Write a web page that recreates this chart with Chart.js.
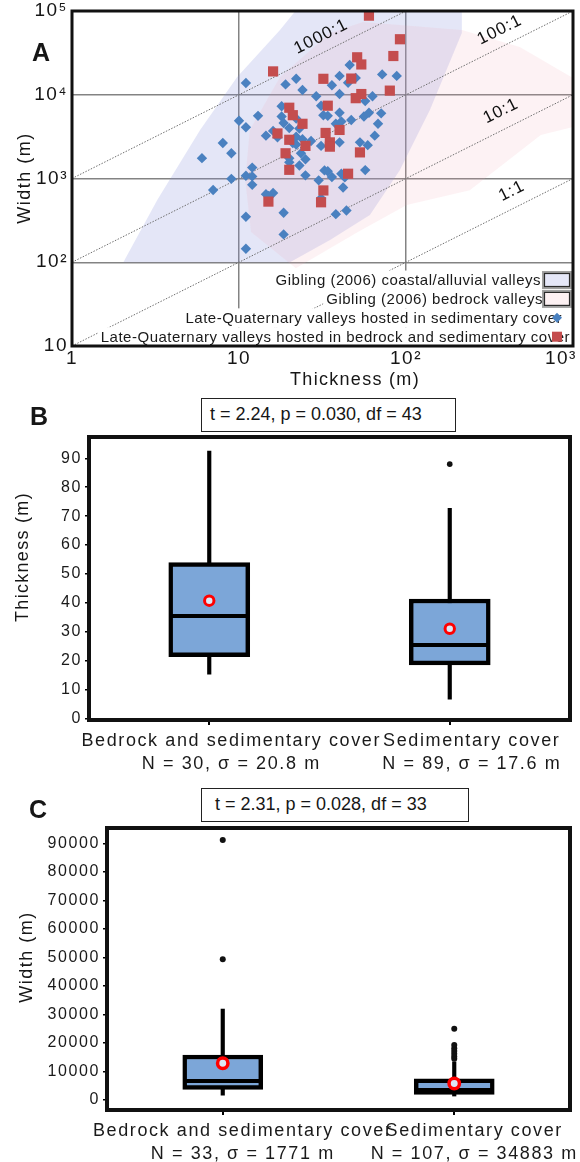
<!DOCTYPE html>
<html>
<head>
<meta charset="utf-8">
<title>Valley thickness and width</title>
<script src="https://cdn.jsdelivr.net/npm/chart.js@4.4.1/dist/chart.umd.min.js"></script>
<style>
  html, body { margin: 0; padding: 0; background: #fff; }
  body { width: 580px; height: 1162px; position: relative; overflow: hidden;
         font-family: "Liberation Sans", Arial, sans-serif; color: #161616; }
  .panel { position: absolute; left: 0; width: 580px; }
  .tag { position: absolute; font-weight: bold; font-size: 25px; line-height: 1; transform: translate(-50%, -50%); }
  .title { position: absolute; font-size: 18px; line-height: 1; white-space: nowrap; transform: translate(-50%, -50%); }
  .title.v { transform: translate(-50%, -50%) rotate(-90deg); }
  .ttest { position: absolute; box-sizing: border-box; border: 1.5px solid #222; background: #fff;
           font-size: 18px; white-space: nowrap; padding-left: 8px; }
</style>
</head>
<body>

<div class="panel" style="top:0;height:390px"><canvas id="scatter"></canvas></div>
<div class="panel" style="top:390px;height:390px"><canvas id="thickness"></canvas></div>
<div class="panel" style="top:780px;height:382px"><canvas id="width"></canvas></div>

<div class="tag" style="left:41px;top:52px">A</div>
<div class="title v" style="left:24px;top:178px;letter-spacing:1.5px">Width (m)</div>
<div class="title" style="left:355px;top:379px;letter-spacing:1.3px">Thickness (m)</div>

<div class="tag" style="left:39px;top:416px">B</div>
<div class="ttest" style="left:201px;top:398px;width:255px;height:34px;line-height:31px">t = 2.24, p = 0.030, df = 43</div>
<div class="title v" style="left:22px;top:557px;letter-spacing:1.3px">Thickness (m)</div>

<div class="tag" style="left:38px;top:809px">C</div>
<div class="ttest" style="left:201px;top:788px;width:268px;height:34px;line-height:31px;padding-left:13px">t = 2.31, p = 0.028, df = 33</div>
<div class="title v" style="left:26px;top:957px;letter-spacing:1.5px">Width (m)</div>

<script>
/* ---------- panel A: thickness vs width (log-log) ---------- */

// valleys hosted in sedimentary cover
const sedThickness = [11, 22, 19, 24, 29, 36, 40, 46, 45, 50, 40, 57, 63, 72, 88, 18, 18, 22, 13, 10,
  11, 18.5, 20, 23, 16, 14.5, 17, 22, 31, 32, 34, 40, 38, 41, 47, 56, 60, 71, 68, 65,
  59, 53, 40, 31, 27, 24, 22, 21, 23.5, 25, 23, 20, 20, 8, 9, 6, 9, 7, 11, 12,
  12, 12, 14.5, 16, 15, 25, 30, 32.5, 34, 36, 41, 43, 42, 57, 31, 18.5, 11, 38, 44, 18.5, 11];
const sedWidth = [13800, 15500, 13300, 11400, 9600, 13000, 16800, 22700, 13900, 15900, 10200, 8400, 9600, 17500, 16800, 7300, 5500, 5200, 5600, 4900,
  4100, 4600, 4000, 3950, 3700, 3250, 3100, 3150, 7400, 5700, 5600, 6100, 4500, 4800, 5000, 5500, 6100, 6000, 4500, 3250,
  2500, 2700, 2700, 2450, 2800, 2950, 2550, 2650, 2000, 1700, 1430, 1560, 1750, 2650, 2000, 1750, 990, 730, 1080, 1350,
  1060, 840, 650, 670, 620, 1090, 950, 1250, 1220, 1040, 1140, 1030, 780, 1260, 580, 390, 350, 375, 415, 215, 145];

// valleys hosted in bedrock and sedimentary cover
const bedThickness = [60, 92, 84, 51, 54, 16, 32, 47, 80, 54, 50, 34, 20, 21, 24, 40, 17, 33, 20, 25,
  35, 35, 19, 53, 20, 45, 32, 15, 31];
const bedWidth = [88000, 46000, 29000, 28000, 23000, 19000, 15500, 15600, 11200, 10200, 9100, 7400, 7000, 5700, 4500, 3800, 3450, 3500, 2900, 2450,
  2700, 2400, 2000, 2050, 1270, 1140, 720, 530, 520];

// Gibling (2006) envelopes, outline vertices
const coastalHullT = [2.03, 3.24, 5.85, 9.75, 17.6, 23.2, 216, 216, 139, 92, 60.8, 35.1, 20.2];
const coastalHullW = [100, 552, 3790, 16300, 59300, 117000, 117000, 54600, 6560, 1260, 366, 184, 100];
const bedrockHullT = [11.6, 17.6, 35.1, 55.2, 216, 480, 1000, 1000, 641, 241, 101, 51.5, 21.9, 11.8, 10.9];
const bedrockHullW = [3790, 16300, 54600, 74000, 59300, 37200, 15900, 4110, 3300, 726, 481, 229, 85, 229, 957];

// width:thickness reference lines and where their labels sit
const ratioNames = ['1000:1', '100:1', '10:1', '1:1'];
const ratioStartT = [1, 1, 1, 10];
const ratioStartW = [1000, 100, 10, 10];
const ratioEndT = [100, 1000, 1000, 1000];
const ratioEndW = [100000, 100000, 10000, 1000];
const ratioLabelT = [31, 364, 370, 430];
const ratioLabelW = [49300, 59300, 6380, 706];

const logThicknessTicks = [1, 10, 100, 1000];
const logThicknessLabels = ['1', '10', '10\u00B2', '10\u00B3\u2007\u2007'];
const logWidthTicks = [10, 100, 1000, 10000, 100000];
const logWidthLabels = ['10', '10\u00B2', '10\u00B3', '10\u2074', '10\u2075'];

/* ---------- panels B and C: box plots ---------- */

const groups = ['Bedrock and sedimentary cover', 'Sedimentary cover'];

const thkCounts = ['N = 30, \u03C3 = 20.8 m', 'N = 89, \u03C3 = 17.6 m'];
const thkLow = [15.3, 6.6];
const thkQ1 = [21.3, 18.5];
const thkMedian = [35.4, 25.4];
const thkQ3 = [53.9, 41.3];
const thkHigh = [92.5, 72.7];
const thkMean = [40.7, 31.0];
const thkOutliers = [[], [88]];
const thkTicks = [0, 10, 20, 30, 40, 50, 60, 70, 80, 90];

const widCounts = ['N = 33, \u03C3 = 1771 m', 'N = 107, \u03C3 = 34883 m'];
const widLow = [1700, 1400];
const widQ1 = [3700, 2000];
const widMedian = [6700, 3500];
const widQ3 = [15800, 7400];
const widHigh = [31900, 13400];
const widMean = [12900, 5800];
const widOutliers = [[49400, 91200], [14500, 15300, 16200, 17200, 18200, 19300, 25000]];
const widTicks = [0, 10000, 20000, 30000, 40000, 50000, 60000, 70000, 80000, 90000];

const BLUE = '#4a81c0';
const RED = '#c44d4e';
const BOX_FILL = '#7ca6d8';

Chart.defaults.font.family = '"Liberation Sans", Arial, sans-serif';
Chart.defaults.color = '#161616';
Chart.defaults.animation = false;
Chart.defaults.events = [];
Chart.defaults.plugins.legend.display = false;
Chart.defaults.plugins.tooltip.enabled = false;

const pts = (xs, ys) => xs.map((x, i) => ({ x, y: ys[i] }));

// letter spacing for everything the chart draws
const textSpacing = {
  id: 'textSpacing',
  beforeDraw(chart, args, opts) {
    chart.ctx.letterSpacing = opts.value || '0px';
  }
};

// heavy black box round the plot area
const frame = {
  id: 'frame',
  afterDraw(chart, args, opts) {
    const { ctx, chartArea: a } = chart;
    ctx.save();
    ctx.lineWidth = opts.width || 3;
    ctx.strokeStyle = '#111';
    ctx.strokeRect(a.left, a.top, a.right - a.left, a.bottom - a.top);
    ctx.restore();
  }
};

// rotated "n:1" labels along the ratio lines
const ratioLabels = {
  id: 'ratioLabels',
  afterDatasetsDraw(chart) {
    const { ctx, scales: { x, y } } = chart;
    ctx.save();
    ctx.font = '17px "Liberation Sans", Arial, sans-serif';
    ctx.letterSpacing = '1px';
    ctx.fillStyle = '#111';
    ctx.textAlign = 'center';
    ctx.textBaseline = 'middle';
    ratioNames.forEach((name, i) => {
      const dx = x.getPixelForValue(ratioEndT[i]) - x.getPixelForValue(ratioStartT[i]);
      const dy = y.getPixelForValue(ratioEndW[i]) - y.getPixelForValue(ratioStartW[i]);
      ctx.save();
      ctx.translate(x.getPixelForValue(ratioLabelT[i]), y.getPixelForValue(ratioLabelW[i]));
      ctx.rotate(Math.atan2(dy, dx));
      ctx.fillText(name, 0, 0);
      ctx.restore();
    });
    ctx.restore();
  }
};

// legend rows stacked in the lower right corner, marker at the right end
const legendRows = [
  { text: 'Gibling (2006) coastal/alluvial valleys', marker: 'box', fill: 'rgb(229,231,248)', inset: 32 },
  { text: 'Gibling (2006) bedrock valleys', marker: 'box', fill: 'rgb(253,241,243)', inset: 30 },
  { text: 'Late-Quaternary valleys hosted in sedimentary cover', marker: 'diamond', inset: 11 },
  { text: 'Late-Quaternary valleys hosted in bedrock and sedimentary cover', marker: 'square', inset: 3 }
];

const valleyLegend = {
  id: 'valleyLegend',
  afterDraw(chart) {
    const { ctx, chartArea: a } = chart;
    const rowH = 18.9;
    ctx.save();
    ctx.font = '15px "Liberation Sans", Arial, sans-serif';
    ctx.letterSpacing = '0.5px';
    ctx.textAlign = 'right';
    ctx.textBaseline = 'middle';
    legendRows.forEach((row, i) => {
      const cy = a.bottom - 9.3 - (legendRows.length - 1 - i) * rowH;
      const tx = a.right - row.inset;
      const left = tx - ctx.measureText(row.text).width - 3;
      ctx.fillStyle = '#fff';
      ctx.fillRect(left, cy - rowH / 2, a.right - left, rowH);
      ctx.fillStyle = '#1a1a1a';
      ctx.fillText(row.text, tx, cy + 1);

      const mx = a.right - 16;
      if (row.marker === 'box') {
        ctx.fillStyle = row.fill;
        ctx.fillRect(mx - 13, cy - 7, 26, 14);
        ctx.lineWidth = 2;
        ctx.strokeStyle = '#a0a0a0';
        ctx.strokeRect(mx - 14, cy - 8, 28, 16);
        ctx.lineWidth = 1.2;
        ctx.strokeStyle = '#2a2a2a';
        ctx.strokeRect(mx - 12.5, cy - 6.5, 25, 13);
      } else if (row.marker === 'diamond') {
        ctx.fillStyle = BLUE;
        ctx.beginPath();
        ctx.moveTo(mx - 5, cy);
        ctx.lineTo(mx, cy - 5);
        ctx.lineTo(mx + 5, cy);
        ctx.lineTo(mx, cy + 5);
        ctx.closePath();
        ctx.fill();
      } else {
        ctx.fillStyle = RED;
        ctx.fillRect(mx - 5, cy - 5, 10, 10);
      }
    });
    ctx.restore();
  }
};

new Chart(document.getElementById('scatter'), {
  type: 'scatter',
  data: {
    datasets: [
      {
        type: 'line', data: pts(coastalHullT, coastalHullW), fill: 'shape',
        backgroundColor: 'rgba(130,140,220,0.22)', borderColor: 'rgba(0,0,0,0)',
        pointRadius: 0, tension: 0, order: 20
      },
      {
        type: 'line', data: pts(bedrockHullT, bedrockHullW), fill: 'shape',
        backgroundColor: 'rgba(240,160,175,0.14)', borderColor: 'rgba(0,0,0,0)',
        pointRadius: 0, tension: 0, order: 19
      },
      ...ratioNames.map((name, i) => ({
        type: 'line', label: name,
        data: [{ x: ratioStartT[i], y: ratioStartW[i] }, { x: ratioEndT[i], y: ratioEndW[i] }],
        borderColor: '#6e6e6e', borderWidth: 1, borderDash: [1.5, 1.5],
        pointRadius: 0, fill: false, order: 10
      })),
      {
        label: 'Late-Quaternary valleys hosted in sedimentary cover',
        data: pts(sedThickness, sedWidth),
        pointStyle: 'rectRot', pointRadius: 5.2, pointBorderWidth: 0,
        backgroundColor: BLUE, order: 2
      },
      {
        label: 'Late-Quaternary valleys hosted in bedrock and sedimentary cover',
        data: pts(bedThickness, bedWidth),
        pointStyle: 'rect', pointRadius: 7.2, pointBorderWidth: 0,
        backgroundColor: RED, order: 1
      }
    ]
  },
  options: {
    responsive: true,
    maintainAspectRatio: false,
    layout: { autoPadding: false, padding: { top: 11, right: 7, left: 0, bottom: 0 } },
    scales: {
      x: {
        type: 'logarithmic', min: 1, max: 1000,
        afterBuildTicks: s => { s.ticks = logThicknessTicks.map(v => ({ value: v })); },
        afterFit: s => { s.height = 44; s.paddingLeft = 0; s.paddingRight = 0; },
        grid: { color: '#838383', lineWidth: 1.5, drawTicks: false },
        border: { display: false },
        ticks: {
          callback: (v, i) => logThicknessLabels[i],
          font: { size: 19 }, padding: 1, maxRotation: 0, autoSkip: false, color: '#151515'
        }
      },
      y: {
        type: 'logarithmic', min: 10, max: 100000,
        afterBuildTicks: s => { s.ticks = logWidthTicks.map(v => ({ value: v })); },
        afterFit: s => { s.width = 72; s.paddingTop = 0; s.paddingBottom = 0; },
        grid: { color: '#838383', lineWidth: 1.5, drawTicks: false },
        border: { display: false },
        ticks: {
          callback: (v, i) => logWidthLabels[i],
          font: { size: 19 }, padding: 4, autoSkip: false, color: '#151515'
        }
      }
    },
    plugins: {
      textSpacing: { value: '1.5px' },
      frame: { width: 3 }
    }
  },
  plugins: [textSpacing, ratioLabels, valleyLegend, frame]
});

// box plot: whisker and box as floating bars, median/mean/outliers as points
function boxPlotChart(canvasId, s, look) {
  const at = vals => vals.map((v, i) => ({ x: i, y: v }));
  const outlierPoints = s.outliers.flatMap((vals, i) => vals.map(v => ({ x: i, y: v })));

  return new Chart(document.getElementById(canvasId), {
    type: 'bar',
    data: {
      datasets: [
        {
          label: 'range', data: s.low.map((v, i) => ({ x: i, y: [v, s.high[i]] })),
          backgroundColor: '#000', barThickness: 3.5, grouped: false, order: 4
        },
        {
          label: 'interquartile', data: s.q1.map((v, i) => ({ x: i, y: [v, s.q3[i]] })),
          backgroundColor: BOX_FILL, borderColor: '#000', borderWidth: 4.5, borderSkipped: false,
          barThickness: look.boxWidth, grouped: false, order: 3
        },
        {
          type: 'line', label: 'median', data: at(s.median), showLine: false,
          pointStyle: 'line', pointRadius: look.boxWidth / 2 - 2, pointBorderWidth: 4,
          pointBorderColor: '#000', order: 2
        },
        {
          type: 'line', label: 'outliers', data: outlierPoints, showLine: false,
          pointRadius: look.dot, pointBorderWidth: 0, pointBackgroundColor: '#111', order: 1
        },
        {
          type: 'line', label: 'mean', data: at(s.mean), showLine: false,
          pointRadius: look.meanRadius, pointBorderWidth: look.meanRing,
          pointBorderColor: '#ff0000', pointBackgroundColor: '#dce7f5', order: 0
        }
      ]
    },
    options: {
      responsive: true,
      maintainAspectRatio: false,
      layout: { autoPadding: false, padding: { top: look.top, right: 10, left: 0, bottom: 0 } },
      scales: {
        x: {
          type: 'linear', min: -0.5, max: 1.5, offset: false,
          afterBuildTicks: sc => { sc.ticks = groups.map((g, i) => ({ value: i })); },
          afterFit: sc => { sc.height = look.xHeight; sc.paddingLeft = 0; sc.paddingRight = 0; },
          grid: { offset: false, drawOnChartArea: false, color: '#000', lineWidth: 2, tickLength: 5 },
          border: { display: false },
          ticks: {
            callback: (v, i) => [groups[i], s.counts[i]],
            font: { size: 18, lineHeight: 1.25 }, padding: 5, labelOffset: look.labelOffset,
            maxRotation: 0, autoSkip: false, color: '#1a1a1a'
          }
        },
        y: {
          min: s.min, max: s.max,
          afterBuildTicks: sc => { sc.ticks = s.ticks.map(v => ({ value: v })); },
          afterFit: sc => { sc.width = look.yWidth; sc.paddingTop = 0; sc.paddingBottom = 0; },
          grid: { drawOnChartArea: false, color: '#000', lineWidth: 1.5, tickLength: 4 },
          border: { display: false },
          ticks: { callback: v => String(v), font: { size: 16 }, padding: 3, autoSkip: false, color: '#1a1a1a' }
        }
      },
      plugins: {
        textSpacing: { value: '1.6px' },
        frame: { width: 4 }
      }
    },
    plugins: [textSpacing, frame]
  });
}

boxPlotChart('thickness', {
  low: thkLow, q1: thkQ1, median: thkMedian, q3: thkQ3, high: thkHigh, mean: thkMean,
  outliers: thkOutliers, counts: thkCounts, ticks: thkTicks, min: -0.6, max: 97.4
}, { top: 47, yWidth: 89, xHeight: 60, boxWidth: 81, labelOffset: 22, dot: 2.8, meanRadius: 4.7, meanRing: 3 });

boxPlotChart('width', {
  low: widLow, q1: widQ1, median: widMedian, q3: widQ3, high: widHigh, mean: widMean,
  outliers: widOutliers, counts: widCounts, ticks: widTicks, min: -3500, max: 95400
}, { top: 48, yWidth: 107, xHeight: 52, boxWidth: 80, labelOffset: 20, dot: 3, meanRadius: 5.2, meanRing: 3.5 });
</script>
</body>
</html>
